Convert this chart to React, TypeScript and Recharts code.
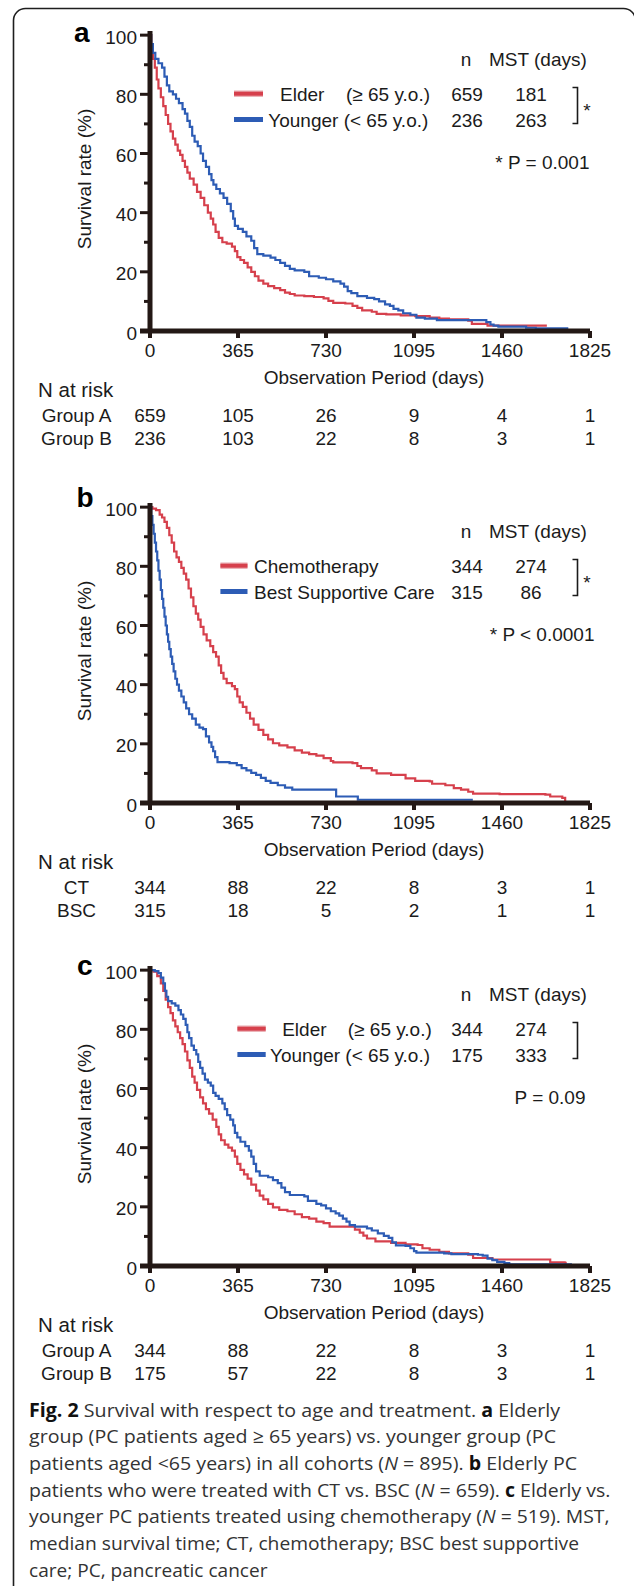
import React from 'react';
import { LineChart, Line, XAxis, YAxis } from 'recharts';

// ---------- data ----------
const X_TICKS = [0, 365, 730, 1095, 1460, 1825];
const Y_TICKS = [0, 10, 20, 30, 40, 50, 60, 70, 80, 90, 100];

// panel a: Elder vs Younger (all cohorts) [day, survival %]
const aElder: [number, number][] = [
  [0, 100], [5, 96], [12, 92], [20, 89], [28, 85], [35, 82], [45, 79], [55, 76], [65, 73], [75, 70],
  [85, 67.5], [95, 65], [105, 63], [115, 61], [125, 59.5], [135, 57.5], [145, 55.5], [155, 53.5],
  [165, 51.5], [181, 49.5], [195, 47], [210, 45], [225, 42.5], [240, 40], [252, 38], [262, 36],
  [272, 33.5], [285, 31.5], [300, 30], [318, 29.5], [340, 28.5], [352, 27], [362, 25], [375, 24],
  [390, 23], [405, 21.5], [420, 20], [435, 18.5], [450, 17], [470, 16], [490, 15.2], [515, 14.5],
  [540, 13.8], [560, 13], [580, 12.5], [600, 12], [640, 11.8], [680, 11.5], [720, 11], [740, 10.2],
  [760, 9.5], [810, 9.3], [840, 8.5], [860, 7.8], [880, 7], [920, 6.5], [940, 5.8], [980, 5.6],
  [1040, 5.3], [1100, 5], [1160, 4.5], [1200, 4.2], [1240, 3.9], [1320, 3.5], [1335, 2.4],
  [1400, 1.8], [1646, 1.8],
];
const aYounger: [number, number][] = [
  [0, 100], [5, 97], [12, 94], [22, 92], [35, 90.5], [50, 89], [60, 86], [70, 83], [80, 81],
  [95, 80], [108, 78.5], [120, 77], [135, 75], [145, 73.5], [155, 71], [165, 69], [175, 66],
  [185, 64], [198, 62.5], [210, 60], [220, 57.5], [232, 55.5], [245, 53], [255, 51], [263, 49.5],
  [275, 48], [290, 46.5], [305, 45], [320, 43], [335, 40.5], [345, 38], [352, 35.5], [365, 34.5],
  [385, 33.5], [400, 32], [420, 30.5], [432, 28], [445, 26], [470, 25.5], [500, 24.8], [520, 24],
  [540, 23], [560, 22], [580, 21], [600, 20.5], [640, 20], [660, 18.5], [700, 18], [730, 17.5],
  [760, 16.8], [790, 16], [805, 15], [820, 13.5], [835, 12.8], [860, 11.8], [900, 11.2],
  [930, 10.8], [950, 10], [975, 9], [995, 8.5], [1010, 7.5], [1030, 7], [1050, 6], [1080, 5.5],
  [1105, 4.5], [1140, 4.2], [1190, 3.7], [1380, 3.7], [1395, 3], [1412, 2.2], [1425, 1.8],
  [1445, 1.5], [1560, 1.1], [1600, 0.9], [1735, 0.9],
];

// panel b: Chemotherapy vs Best Supportive Care (elderly)
const bChemo: [number, number][] = [
  [0, 100], [10, 99.5], [25, 99], [40, 97.5], [50, 96.5], [60, 95], [70, 93], [80, 90.5], [90, 88],
  [100, 85], [110, 83], [120, 81.5], [130, 79.5], [140, 77.5], [150, 75.5], [160, 72.5], [170, 69.5],
  [180, 66.5], [190, 64], [200, 62], [210, 59.5], [222, 57], [235, 55], [250, 53], [262, 51],
  [274, 49.5], [285, 46.5], [295, 44], [305, 42], [318, 40.5], [340, 39.5], [352, 38.5], [362, 36],
  [372, 34], [385, 32.5], [400, 30.5], [415, 28.5], [430, 26.5], [450, 24.7], [470, 23], [490, 21.5],
  [510, 20.2], [536, 19.5], [570, 18.8], [600, 17.8], [630, 17], [660, 16.5], [690, 16], [720, 15.2],
  [750, 14.2], [760, 13.7], [840, 13.5], [860, 12.5], [875, 11.8], [920, 11], [940, 10], [1000, 9.5],
  [1060, 8.3], [1100, 7.5], [1160, 7.3], [1170, 6.5], [1225, 6], [1260, 5], [1290, 4.5], [1320, 3.8],
  [1340, 3.2], [1450, 3], [1640, 2.8], [1660, 2.2], [1710, 1.7], [1722, 0.3],
];
const bBsc: [number, number][] = [
  [0, 100], [5, 97], [10, 94], [15, 91], [20, 88], [25, 85], [30, 82], [35, 78.5], [40, 75.5],
  [45, 72], [50, 69], [55, 66], [60, 63], [65, 60], [70, 57], [75, 54.5], [80, 52], [86, 49.5],
  [92, 47], [98, 44.5], [105, 42], [112, 40], [120, 38], [130, 36], [140, 34], [150, 32], [162, 30],
  [175, 28.5], [190, 26.5], [205, 25.5], [220, 25], [232, 22.5], [245, 20.5], [255, 19], [262, 17.5],
  [270, 15.5], [280, 13.8], [330, 13.5], [360, 12.8], [380, 11.8], [400, 11], [420, 10.2], [440, 9.5],
  [460, 8.5], [480, 7.5], [500, 6.8], [530, 6], [560, 5.2], [590, 4.5], [770, 4.5], [772, 2.2],
  [862, 1.1], [1339, 1.1],
];

// panel c: Elder vs Younger (chemotherapy)
const cElder: [number, number][] = [
  [0, 100], [15, 99.5], [30, 98], [45, 95.5], [55, 93], [65, 90], [75, 87.5], [85, 85.5], [95, 83],
  [105, 81], [115, 79], [125, 77], [135, 75], [145, 72.5], [155, 69.5], [165, 67], [175, 64],
  [185, 62], [195, 59.5], [208, 57], [220, 55], [232, 53], [245, 51.5], [260, 49.5], [275, 47],
  [285, 44.5], [295, 42.5], [310, 41], [325, 40], [340, 39], [352, 37], [362, 34.5], [375, 32.5],
  [390, 31], [405, 29.5], [420, 27.5], [440, 25.5], [455, 23.8], [470, 22.5], [490, 21], [510, 19.8],
  [536, 19], [570, 18.5], [600, 17.5], [630, 16.5], [660, 16], [690, 15], [720, 14.5], [745, 13.3],
  [830, 13.3], [850, 12.3], [870, 11.3], [885, 10.3], [900, 9.3], [935, 8.3], [1000, 7.8],
  [1060, 7.3], [1110, 7.1], [1130, 6], [1160, 5.5], [1200, 4.8], [1240, 4.3], [1320, 3.8],
  [1340, 2.7], [1420, 2.2], [1650, 2.2], [1660, 1.2], [1720, 1.1], [1724, 0.3],
];
const cYounger: [number, number][] = [
  [0, 100], [20, 99.7], [35, 99], [45, 97.5], [55, 95.5], [62, 93], [68, 91], [75, 89.5], [90, 88.8],
  [105, 88], [118, 86.5], [128, 85], [138, 83.5], [148, 81.5], [155, 79], [162, 77], [172, 74.5],
  [182, 73], [192, 71.5], [200, 69], [208, 67], [218, 65], [228, 63], [240, 62], [252, 61],
  [262, 58.5], [272, 57.5], [285, 56.5], [300, 55], [310, 53], [320, 51], [333, 49.5], [345, 47.5],
  [352, 45], [362, 43.5], [375, 42], [395, 40.5], [410, 39], [420, 37], [430, 34.5], [440, 32],
  [455, 30.5], [490, 30], [510, 29], [530, 28], [545, 26.5], [560, 25], [580, 24], [640, 23.5],
  [655, 22], [690, 21], [710, 20.5], [730, 19.5], [750, 18.5], [770, 17.8], [785, 17], [800, 16],
  [815, 15], [828, 13.8], [850, 13.3], [900, 12.7], [920, 12], [945, 11], [970, 10.2], [990, 9.5],
  [1005, 8], [1020, 7], [1060, 6.8], [1080, 6], [1095, 5], [1105, 4.5], [1220, 4.3], [1250, 4],
  [1360, 3.8], [1380, 3.5], [1400, 2.5], [1420, 2], [1440, 1.4], [1470, 1], [1490, 0.6], [1750, 0.6],
];

// numbers at risk
const riskA1 = [659, 105, 26, 9, 4, 1];
const riskA2 = [236, 103, 22, 8, 3, 1];
const riskB1 = [344, 88, 22, 8, 3, 1];
const riskB2 = [315, 18, 5, 2, 1, 1];
const riskC1 = [344, 88, 22, 8, 3, 1];
const riskC2 = [175, 57, 22, 8, 3, 1];

// ---------- style ----------
const RED = '#d6404c';
const BLUE = '#2d5cb5';
const INK = '#231815';
const TXT = '#1b1b1b';
const FONT = 'Arial, "Liberation Sans", Helvetica, sans-serif';
const CAP_FONT = '"Open Sans", "Noto Sans", sans-serif';

const toRows = (arr: [number, number][]) => arr.map(([t, s]) => ({ t, s }));

type LegendText = { t: string; x: number };
type PanelCfg = {
  top: number;
  letter: string;
  letterX: number;
  letterDy: number;
  red: [number, number][];
  blue: [number, number][];
  rowLabels: string[];
  risk: number[][];
  swatch: [number, number];
  row1: LegendText[];
  row2: LegendText[];
  nVals: string[];
  mstVals: string[];
  star: boolean;
  bracketX: number;
  pText: string;
  pEnd: number;
};

const PANELS: PanelCfg[] = [
  {
    top: 0, letter: 'a', letterX: 74, letterDy: -289.5, red: aElder, blue: aYounger,
    rowLabels: ['Group A', 'Group B'], risk: [riskA1, riskA2], swatch: [234, 263],
    row1: [{ t: 'Elder', x: 280 }, { t: '(≥ 65 y.o.)', x: 346 }],
    row2: [{ t: 'Younger (< 65 y.o.)', x: 268.3 }],
    nVals: ['659', '236'], mstVals: ['181', '263'], star: true, bracketX: 577.5,
    pText: '* P = 0.001', pEnd: 589.5,
  },
  {
    top: 472, letter: 'b', letterX: 76.5, letterDy: -296.3, red: bChemo, blue: bBsc,
    rowLabels: ['CT', 'BSC'], risk: [riskB1, riskB2], swatch: [220.4, 247.5],
    row1: [{ t: 'Chemotherapy', x: 254 }],
    row2: [{ t: 'Best Supportive Care', x: 254 }],
    nVals: ['344', '315'], mstVals: ['274', '86'], star: true, bracketX: 577.5,
    pText: '* P < 0.0001', pEnd: 594.5,
  },
  {
    top: 935, letter: 'c', letterX: 77, letterDy: -291, red: cElder, blue: cYounger,
    rowLabels: ['Group A', 'Group B'], risk: [riskC1, riskC2], swatch: [237.4, 265.7],
    row1: [{ t: 'Elder', x: 282.2 }, { t: '(≥ 65 y.o.)', x: 347.8 }],
    row2: [{ t: 'Younger (< 65 y.o.)', x: 270 }],
    nVals: ['344', '175'], mstVals: ['274', '333'], star: false, bracketX: 577.5,
    pText: 'P = 0.09', pEnd: 585.5,
  },
];

const CHART_H = 456;
const MARGIN = { top: 31, right: 44, bottom: 0, left: 90 };
const AXIS_Y = 331; // plot bottom inside each chart

// ---------- ticks ----------
const makeXTick = (risk: number[][]) => (p: any) => {
  const { x, y, payload } = p;
  const base = y - 7;
  const idx = X_TICKS.indexOf(payload.value);
  return (
    <g>
      <text x={x} y={base + 26} textAnchor="middle" fontSize={19} fontFamily={FONT} fill={TXT}>
        {payload.value}
      </text>
      {risk.map((r, k) => (
        <text key={k} x={x} y={base + 91 + 23 * k} textAnchor="middle" fontSize={19} fontFamily={FONT} fill={TXT}>
          {idx >= 0 ? r[idx] : ''}
        </text>
      ))}
    </g>
  );
};

const YTick = (p: any) => {
  const { x, y, payload } = p;
  const v = payload.value;
  const ax = x + 10;
  const major = v % 20 === 0;
  return (
    <g>
      <line x1={ax} x2={ax - (major ? 10 : 6)} y1={y} y2={y} stroke={INK} strokeWidth={v === 0 ? 5 : 3} />
      {major && (
        <text x={ax - 13} y={y + 8.5} textAnchor="end" fontSize={19} fontFamily={FONT} fill={TXT}>
          {v}
        </text>
      )}
    </g>
  );
};

const Panel = ({ cfg }: { cfg: PanelCfg }) => (
  <div style={{ position: 'absolute', left: 0, top: cfg.top, width: 634, height: CHART_H }}>
    <LineChart width={634} height={CHART_H} margin={MARGIN}>
      <XAxis
        type="number"
        dataKey="t"
        domain={[0, 1825]}
        ticks={X_TICKS}
        interval={0}
        allowDataOverflow
        height={125}
        axisLine={{ stroke: INK, strokeWidth: 5 }}
        tickLine={{ stroke: INK, strokeWidth: 4 }}
        tickSize={7}
        tickMargin={0}
        tick={makeXTick(cfg.risk)}
      />
      <YAxis
        type="number"
        domain={[0, 101.4]}
        ticks={Y_TICKS}
        interval={0}
        allowDataOverflow
        width={60}
        axisLine={{ stroke: INK, strokeWidth: 5 }}
        tickLine={{ stroke: 'none' }}
        tickSize={10}
        tickMargin={0}
        tick={YTick}
      />
      <Line
        data={toRows(cfg.red)}
        dataKey="s"
        type="stepAfter"
        stroke={RED}
        strokeWidth={2.2}
        dot={false}
        activeDot={false}
        isAnimationActive={false}
      />
      <Line
        data={toRows(cfg.blue)}
        dataKey="s"
        type="stepAfter"
        stroke={BLUE}
        strokeWidth={2.2}
        dot={false}
        activeDot={false}
        isAnimationActive={false}
      />
    </LineChart>
  </div>
);

const Annotations = ({ cfg }: { cfg: PanelCfg }) => {
  const y0 = cfg.top + AXIS_Y;
  const r1 = y0 - 230.3;
  const r2 = y0 - 204.5;
  const t = { fontSize: 19, fontFamily: FONT, fill: TXT } as const;
  return (
    <g>
      <text x={cfg.letterX} y={y0 + cfg.letterDy} fontSize={28} fontWeight="bold" fontFamily={FONT} fill="#000">
        {cfg.letter}
      </text>
      {/* axis titles */}
      <text
        transform={`translate(90.5, ${y0 - 152}) rotate(-90)`}
        textAnchor="middle"
        {...t}
      >
        Survival rate (%)
      </text>
      <text x={374} y={y0 + 53} textAnchor="middle" {...t}>
        Observation Period (days)
      </text>
      {/* N at risk */}
      <text x={38} y={y0 + 65.5} fontSize={20.5} fontFamily={FONT} fill={TXT}>
        N at risk
      </text>
      {cfg.rowLabels.map((lab, k) => (
        <text key={lab} x={76.5} y={y0 + 91 + 23 * k} textAnchor="middle" {...t}>
          {lab}
        </text>
      ))}
      {/* legend header */}
      <text x={466} y={y0 - 265} textAnchor="middle" {...t}>n</text>
      <text x={489} y={y0 - 265} {...t}>MST (days)</text>
      {/* legend rows */}
      <line x1={cfg.swatch[0]} x2={cfg.swatch[1]} y1={r1 - 7} y2={r1 - 7} stroke="#eab0b5" strokeWidth={6.5} />
      <line x1={cfg.swatch[0]} x2={cfg.swatch[1]} y1={r1 - 7} y2={r1 - 7} stroke={RED} strokeWidth={4} />
      <line x1={cfg.swatch[0]} x2={cfg.swatch[1]} y1={r2 - 7} y2={r2 - 7} stroke={BLUE} strokeWidth={5} />
      {cfg.row1.map((s) => (
        <text key={s.t} x={s.x} y={r1} {...t}>{s.t}</text>
      ))}
      {cfg.row2.map((s) => (
        <text key={s.t} x={s.x} y={r2} {...t}>{s.t}</text>
      ))}
      <text x={467} y={r1} textAnchor="middle" {...t}>{cfg.nVals[0]}</text>
      <text x={467} y={r2} textAnchor="middle" {...t}>{cfg.nVals[1]}</text>
      <text x={531} y={r1} textAnchor="middle" {...t}>{cfg.mstVals[0]}</text>
      <text x={531} y={r2} textAnchor="middle" {...t}>{cfg.mstVals[1]}</text>
      {/* bracket */}
      <path
        d={`M ${cfg.bracketX - 5} ${y0 - 243.5} H ${cfg.bracketX} V ${y0 - 207.5} H ${cfg.bracketX - 5}`}
        fill="none"
        stroke={TXT}
        strokeWidth={1.6}
      />
      {cfg.star && (
        <text x={587} y={y0 - 214} textAnchor="middle" {...t}>*</text>
      )}
      <text x={cfg.pEnd} y={y0 - 161.7} textAnchor="end" {...t}>{cfg.pText}</text>
    </g>
  );
};

type Seg = { s: string; b?: boolean; i?: boolean };
const CAPTION: { segs: Seg[]; w: number }[] = [
  { segs: [{ s: 'Fig. 2', b: true }, { s: ' Survival with respect to age and treatment. ' }, { s: 'a', b: true }, { s: ' Elderly' }], w: 531 },
  { segs: [{ s: 'group (PC patients aged ≥ 65 years) vs. younger group (PC' }], w: 527 },
  { segs: [{ s: 'patients aged <65 years) in all cohorts (' }, { s: 'N', i: true }, { s: ' = 895). ' }, { s: 'b', b: true }, { s: ' Elderly PC' }], w: 548 },
  { segs: [{ s: 'patients who were treated with CT vs. BSC (' }, { s: 'N', i: true }, { s: ' = 659). ' }, { s: 'c', b: true }, { s: ' Elderly vs.' }], w: 581.5 },
  { segs: [{ s: 'younger PC patients treated using chemotherapy (' }, { s: 'N', i: true }, { s: ' = 519). MST,' }], w: 580.5 },
  { segs: [{ s: 'median survival time; CT, chemotherapy; BSC best supportive' }], w: 550 },
  { segs: [{ s: 'care; PC, pancreatic cancer' }], w: 238.5 },
];

export default function App() {
  return (
    <div style={{ position: 'absolute', left: 0, top: 0, width: 634, height: 1586, background: '#fff', overflow: 'hidden' }}>
      {PANELS.map((cfg) => (
        <Panel key={cfg.letter} cfg={cfg} />
      ))}
      <svg width={634} height={1586} style={{ position: 'absolute', left: 0, top: 0, pointerEvents: 'none' }}>
        <rect x={13.5} y={8.5} width={622} height={1620} rx={12} ry={12} fill="none" stroke="#1e1e1e" strokeWidth={1.6} />
        {PANELS.map((cfg) => (
          <Annotations key={cfg.letter} cfg={cfg} />
        ))}
        {CAPTION.map((line, k) => (
          <text
            key={k}
            x={29}
            y={1416.7 + k * 26.67}
            textLength={line.w}
            lengthAdjust="spacingAndGlyphs"
            fontSize={19}
            fontFamily={CAP_FONT}
            fill="#333"
          >
            {line.segs.map((sg, j) => (
              <tspan key={j} fontWeight={sg.b ? 'bold' : 'normal'} fontStyle={sg.i ? 'italic' : 'normal'} fill={sg.b ? '#111' : '#333'}>
                {sg.s}
              </tspan>
            ))}
          </text>
        ))}
      </svg>
    </div>
  );
}
